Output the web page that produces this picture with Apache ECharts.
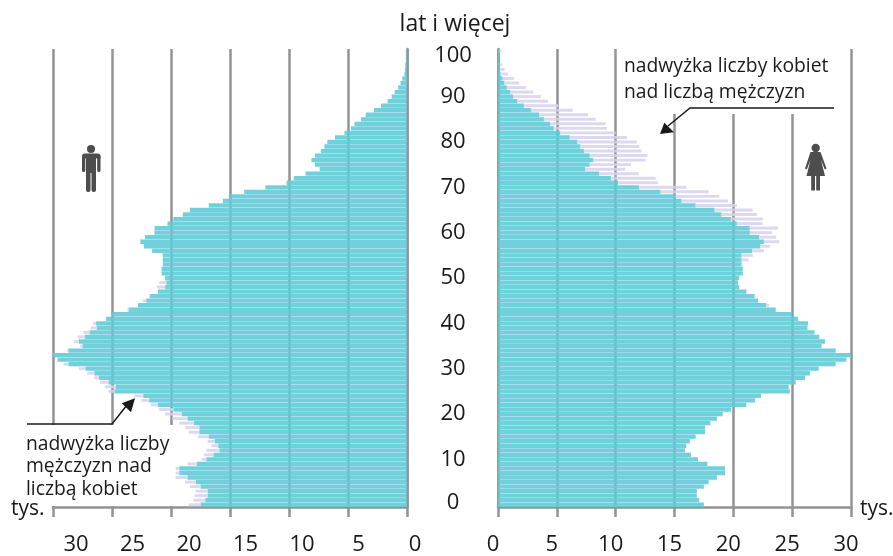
<!DOCTYPE html>
<html>
<head>
<meta charset="utf-8">
<script src="https://cdn.jsdelivr.net/npm/echarts@6/dist/echarts.min.js"></script>
<style>
html, body { margin: 0; padding: 0; background: #fff; }
#chart_1 { width: 893px; height: 556px; }
</style>
</head>
<body>
<div id="chart_1"></div>
<script>
var ages = [];
for (var a = 0; a <= 100; a++) { ages.push(String(a)); }

// tys. osob, wiek 0..100
var male = [
    18.5, 18.1, 18.0, 17.9, 18.4, 18.8, 19.6, 19.6, 19.6, 18.6,
    17.4, 17.2, 17.0, 16.6, 16.9, 17.7, 18.5, 18.8, 19.3, 19.9,
    20.5, 21.0, 21.7, 22.5, 23.1, 25.3, 25.6, 26.0, 26.5, 27.1,
    27.8, 29.1, 29.6, 30.0, 28.8, 27.7, 28.2, 27.9, 27.4, 26.8,
    26.6, 25.5, 25.0, 23.7, 22.8, 22.4, 21.8, 21.1, 21.2, 21.0,
    20.5, 20.8, 20.8, 20.7, 20.7, 20.7, 21.6, 22.3, 22.6, 22.2,
    21.4, 21.4, 20.3, 19.8, 19.0, 18.4, 16.8, 15.6, 15.1, 13.8,
    12.0, 10.2, 9.6, 8.6, 7.4, 7.8, 8.1, 7.8, 7.3, 7.0,
    6.75, 6.1, 5.3, 4.75, 4.45, 3.9, 3.5, 2.8, 2.2, 1.65,
    1.3, 1.05, 0.75, 0.55, 0.4, 0.22, 0.17, 0.15, 0.1, 0.1, 0.1
];
var female = [
    17.5, 17.1, 16.9, 16.9, 17.5, 17.9, 18.6, 19.3, 19.3, 17.8,
    17.0, 16.4, 15.9, 16.0, 16.3, 16.8, 17.6, 17.6, 18.05, 18.6,
    19.1, 19.8, 21.1, 21.85, 22.35, 24.8, 24.7, 25.3, 26.1, 26.5,
    27.25, 28.7, 29.6, 30.2, 28.7, 27.5, 27.8, 27.3, 26.9, 26.3,
    26.35, 25.5, 25.0, 23.6, 23.05, 22.1, 21.9, 21.2, 20.5, 20.4,
    20.5, 20.8, 20.85, 20.8, 21.3, 21.65, 22.6, 23.1, 23.9, 23.65,
    23.3, 23.8, 22.5, 22.5, 22.0, 21.65, 20.3, 19.55, 18.8, 17.9,
    16.0, 13.6, 13.4, 11.95, 10.8, 11.3, 12.55, 12.7, 12.2, 12.0,
    11.8, 10.95, 10.0, 9.25, 9.15, 8.3, 7.65, 6.35, 5.15, 4.25,
    3.65, 3.0, 2.35, 1.8, 1.35, 0.85, 0.55, 0.35, 0.1, 0.1, 0.3
];

// czesc wspolna i nadwyzka
var common = male.map(function (m, i) { return Math.min(m, female[i]); });
var maleExcess = male.map(function (m, i) { return +(m - common[i]).toFixed(2); });
var femaleExcess = female.map(function (f, i) { return +(f - common[i]).toFixed(2); });

var teal = 'rgba(96,204,217,0.9)';
var lilac = 'rgba(214,209,236,0.85)';
var grey = '#939393';
var ink = '#1a1a1a';
var iconColor = '#4d4d4d';
var font = '"Open Sans", sans-serif';

function valueAxis(gridIndex, inverse) {
    return {
        type: 'value', gridIndex: gridIndex, inverse: inverse,
        min: 0, max: 30, interval: 5,
        axisLine: { show: true, onZero: false, lineStyle: { color: grey, width: 2.5 } },
        axisTick: { show: true, length: 10, lineStyle: { color: grey, width: 2.5 } },
        axisLabel: { show: false },
        splitLine: { show: true, lineStyle: { color: grey, width: 2.5 } }
    };
}
// osobna os tylko na podpisy, bo w oryginale nie leza pod kreskami
function labelAxis(gridIndex, inverse) {
    return {
        type: 'value', gridIndex: gridIndex, inverse: inverse,
        min: 0, max: 30, interval: 5,
        axisLine: { show: false }, axisTick: { show: false }, splitLine: { show: false },
        axisLabel: { show: true, margin: 29, fontSize: 22, color: ink, fontFamily: font }
    };
}
// druga warstwa na te same wspolrzedne: nadwyzki sa ciensze niz paski wspolne
function hiddenAxis(gridIndex, inverse) {
    return { type: 'value', gridIndex: gridIndex, inverse: inverse, min: 0, max: 30, show: false };
}
function barSeries(axisIndex, stack, values, color, width) {
    return {
        type: 'bar', xAxisIndex: axisIndex, yAxisIndex: axisIndex, stack: stack,
        data: values, barWidth: width, silent: true,
        itemStyle: { color: color }
    };
}
function text(x, y, str, size, lineHeight) {
    return { type: 'text', z: 5, x: x, y: y, style: { text: str, fontSize: size, lineHeight: lineHeight, fontFamily: font, fill: ink } };
}
function leader(points) {
    return { type: 'polyline', z: 5, shape: { points: points }, style: { stroke: ink, lineWidth: 1.5, fill: null } };
}
function poly(points, fill) {
    return { type: 'polygon', z: 5, shape: { points: points }, style: { fill: fill } };
}
function box(x, y, w, h, r) {
    return { type: 'rect', z: 5, shape: { x: x, y: y, width: w, height: h, r: r }, style: { fill: iconColor } };
}
function head(x, y, r) {
    return { type: 'circle', z: 5, shape: { cx: x, cy: y, r: r }, style: { fill: iconColor } };
}

var dom = document.getElementById('chart_1');
var myChart = echarts.init(dom);
var option = {
    animation: false,
    backgroundColor: '#fff',
    title: {
        text: 'lat i więcej', left: 450, top: 8, textAlign: 'center',
        textStyle: { fontSize: 23, fontWeight: 'normal', color: ink, fontFamily: font }
    },
    grid: [
        { left: 53, width: 354, top: 49, height: 458 },
        { left: 498, width: 353, top: 49, height: 458 },
        { left: 76, width: 339, top: 49, height: 458 },
        { left: 493, width: 353, top: 49, height: 458 },
        { left: 53, width: 354, top: 49, height: 458 },
        { left: 498, width: 353, top: 49, height: 458 }
    ],
    xAxis: [
        valueAxis(0, true), valueAxis(1, false),
        labelAxis(2, true), labelAxis(3, false),
        hiddenAxis(4, true), hiddenAxis(5, false)
    ],
    yAxis: [
        {
            type: 'category', gridIndex: 0, data: ages, position: 'right',
            axisLine: { lineStyle: { color: grey, width: 2.5 } }, axisTick: { show: false }, axisLabel: { show: false }
        },
        {
            type: 'category', gridIndex: 1, data: ages,
            axisLine: { lineStyle: { color: grey, width: 2.5 } }, axisTick: { show: false },
            axisLabel: {
                interval: 9, align: 'center', margin: 45, fontSize: 22, color: ink, fontFamily: font,
                formatter: function (v) { return v === '100' ? '{top|100}' : v === '0' ? '{low|0}' : v; },
                rich: {
                    top: { fontSize: 22, color: ink, fontFamily: font, padding: [9, 0, 0, 0] },
                    low: { fontSize: 22, color: ink, fontFamily: font, padding: [0, 0, 3, 0] }
                }
            }
        },
        { type: 'category', gridIndex: 2, data: ages, show: false },
        { type: 'category', gridIndex: 3, data: ages, show: false },
        { type: 'category', gridIndex: 4, data: ages, show: false },
        { type: 'category', gridIndex: 5, data: ages, show: false }
    ],
    series: [
        barSeries(0, 'm', common, teal, '95%'),
        barSeries(1, 'k', common, teal, '95%'),
        barSeries(4, 'mx', common, 'transparent', '65%'),
        barSeries(4, 'mx', maleExcess, lilac, '65%'),
        barSeries(5, 'kx', common, 'transparent', '65%'),
        barSeries(5, 'kx', femaleExcess, lilac, '65%')
    ],
    graphic: [
        // biale tla pod opisami, przerywaja linie siatki
        { type: 'rect', z: 1, shape: { x: 40, y: 425, width: 133, height: 81 }, style: { fill: '#fff' } },
        { type: 'rect', z: 1, shape: { x: 670, y: 47, width: 130, height: 67 }, style: { fill: '#fff' } },
        text(26, 433, 'nadwyżka liczby\nmężczyzn nad\nliczbą kobiet', 19.3, 22.5),
        text(624, 54, 'nadwyżka liczby kobiet\nnad liczbą mężczyzn', 19.3, 26),
        text(11, 497, 'tys.', 21, 24),
        text(860, 497, 'tys.', 21, 24),
        leader([[27, 424], [112, 424], [127, 405]]),
        poly([[135, 398.3], [121.7, 403.3], [131, 412.3]], ink),
        leader([[834, 108], [690, 108], [668, 126]]),
        poly([[660, 134], [664.3, 122.7], [674, 132.3]], ink),
        // mezczyzna
        head(91, 149, 4),
        box(82, 153.5, 18.5, 5, [3, 3, 0, 0]),
        box(82, 155, 3.3, 17, 1.6),
        box(97.2, 155, 3.3, 17, 1.6),
        box(86, 155, 10, 18, 0),
        box(86, 170, 4.5, 22, 2),
        box(91.5, 170, 4.5, 22, 2),
        // kobieta
        head(815.7, 148, 4.2),
        poly([[810.5, 152], [820.5, 152], [826.5, 168.5], [824.8, 169.5], [821, 160], [825, 176], [806.5, 176], [810.5, 160], [806.8, 169.5], [805, 168.5]], iconColor),
        box(811.2, 175, 3.8, 15.5, 0),
        box(816.2, 175, 3.8, 15.5, 0)
    ]
};
myChart.setOption(option, true);
</script>
</body>
</html>
